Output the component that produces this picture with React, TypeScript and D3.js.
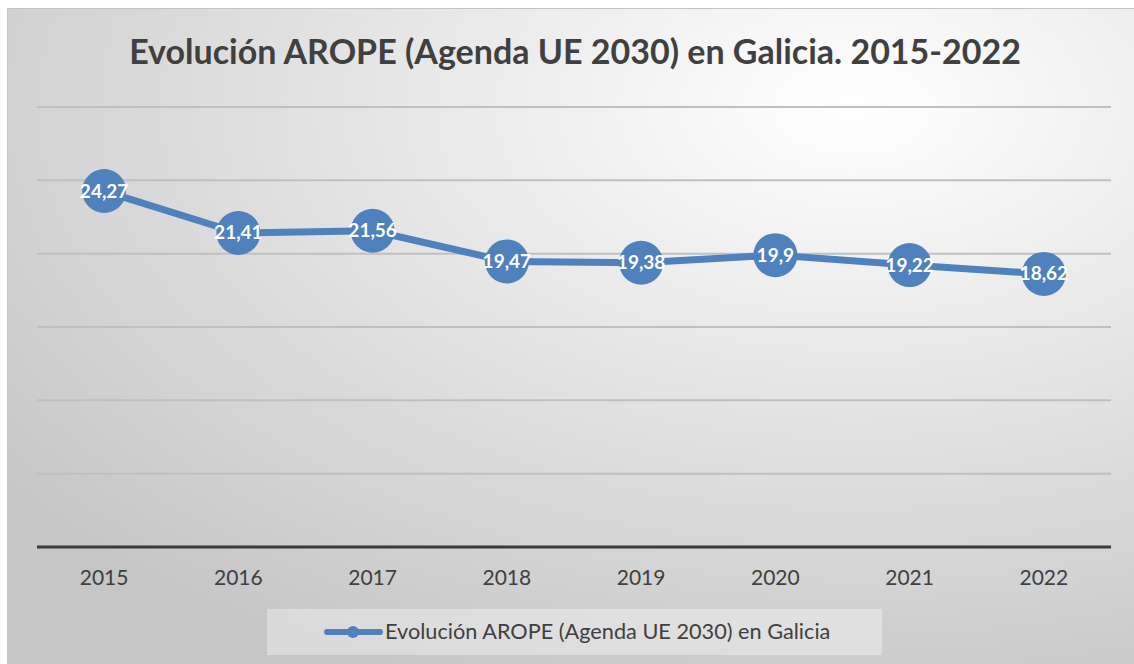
import React from "react";
import * as d3 from "d3";

const years = ["2015", "2016", "2017", "2018", "2019", "2020", "2021", "2022"];
const values = [24.27, 21.41, 21.56, 19.47, 19.38, 19.9, 19.22, 18.62];
const yTicks = [0, 5, 10, 15, 20, 25, 30];
const title = "Evolución AROPE (Agenda UE 2030) en Galicia. 2015-2022";
const seriesName = "Evolución AROPE (Agenda UE 2030) en Galicia";

const W = 1134;
const H = 664;
const blue = "#4f81bd";
const font = "Lato, 'Open Sans', sans-serif";

export default function App() {
  const x = d3.scaleBand().domain(years).range([37, 1111]);
  const y = d3.scaleLinear().domain([0, 30]).range([547, 107]);
  const line = d3
    .line<number>()
    .x((_, i) => x(years[i])! + x.bandwidth() / 2)
    .y((d) => y(d));

  return (
    <svg
      width={W}
      height={H}
      style={{ position: "absolute", left: 0, top: 0, background: "#fff" }}
    >
      <defs>
        <radialGradient id="bg" cx="0.75" cy="0.15" r="0.95">
          <stop offset="0" stopColor="#ffffff" />
          <stop offset="1" stopColor="#c6c6c6" />
        </radialGradient>
      </defs>
      <rect x={7.5} y={8.5} width={W - 7} height={H - 8} fill="url(#bg)" stroke="#c4c4c4" />

      <text
        x={575}
        y={64}
        textAnchor="middle"
        fontFamily={font}
        fontWeight={700}
        fontSize={34}
        fill="#404040"
      >
        {title}
      </text>

      {/* gridlines */}
      {yTicks.slice(1).map((t) => (
        <line key={t} x1={37} x2={1111} y1={y(t)} y2={y(t)} stroke="#c0c0c0" strokeWidth={2} />
      ))}
      <line x1={37} x2={1111} y1={y(0)} y2={y(0)} stroke="#3a3a3a" strokeWidth={3} />

      {years.map((yr) => (
        <text
          key={yr}
          x={x(yr)! + x.bandwidth() / 2}
          y={585}
          textAnchor="middle"
          fontFamily={font}
          fontSize={21}
          fill="#404040"
        >
          {yr}
        </text>
      ))}

      <path d={line(values) ?? ""} fill="none" stroke={blue} strokeWidth={7} strokeLinejoin="round" />
      {values.map((v, i) => {
        const cx = x(years[i])! + x.bandwidth() / 2;
        return (
          <g key={i}>
            <circle cx={cx} cy={y(v)} r={22} fill={blue} />
            <text
              x={cx}
              y={y(v) + 6.5}
              textAnchor="middle"
              fontFamily={font}
              fontWeight={700}
              fontSize={19}
              fill="#fff"
            >
              {String(v).replace(".", ",")}
            </text>
          </g>
        );
      })}

      {/* legend */}
      <rect x={267} y={609} width={615} height={46} fill="#ffffff" fillOpacity={0.35} />
      <line x1={327} x2={380} y1={632} y2={632} stroke={blue} strokeWidth={6} strokeLinecap="round" />
      <circle cx={353} cy={632} r={6} fill={blue} />
      <text x={385} y={639} fontFamily={font} fontSize={21.7} fill="#404040">
        {seriesName}
      </text>
    </svg>
  );
}
